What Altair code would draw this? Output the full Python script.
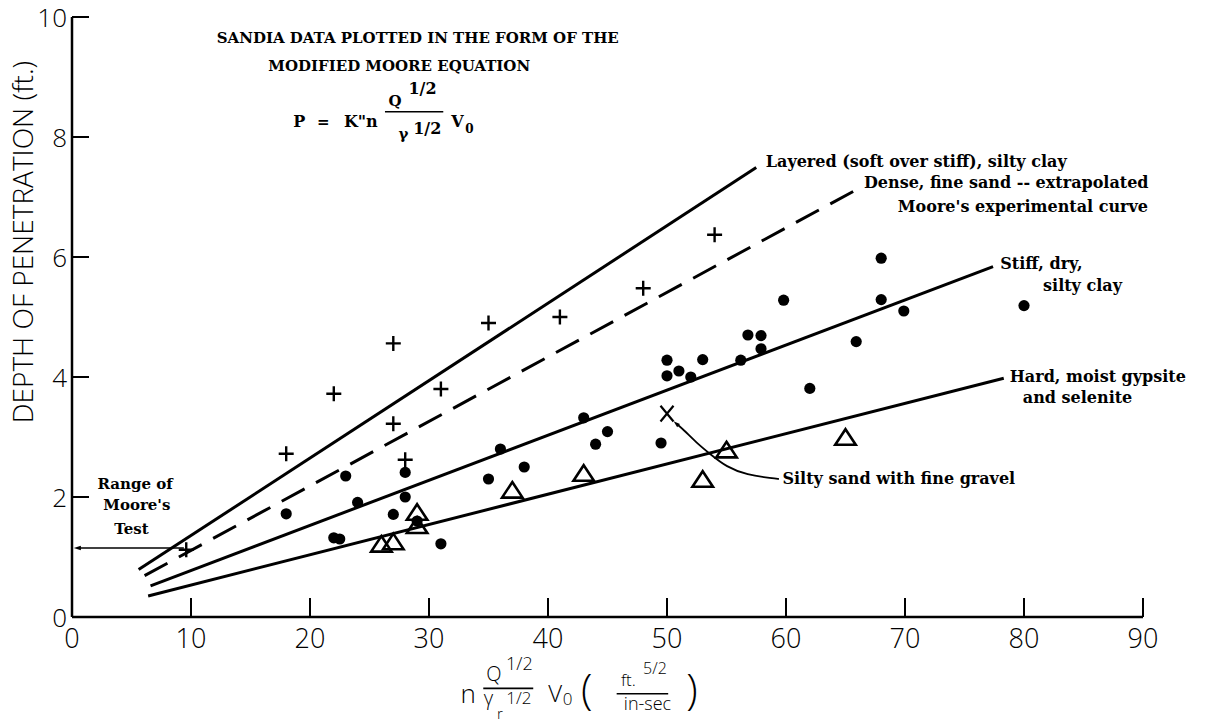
import altair as alt
import pandas as pd

# ---- axis ticks -------------------------------------------------------------
x_ticks = [0, 10, 20, 30, 40, 50, 60, 70, 80, 90]
y_ticks = [0, 2, 4, 6, 8, 10]

# ---- Sandia test data ---------------------------------------------------------
# layered (soft over stiff) silty clay
plus_x = [9.6, 18, 22, 27, 27, 28, 31, 35, 41, 48, 54]
plus_y = [1.12, 2.72, 3.72, 4.56, 3.22, 2.62, 3.8, 4.9, 5.0, 5.48, 6.37]

# stiff, dry silty clay
dot_x = [18, 22, 22.5, 23, 24, 27, 28, 28, 29, 31, 35, 36, 38, 43, 44, 45, 49.5,
         50, 50, 51, 52, 53, 56.2, 56.8, 57.9, 57.9, 59.8, 62, 65.9, 68, 68, 69.9, 80]
dot_y = [1.72, 1.32, 1.3, 2.35, 1.91, 1.71, 2.41, 2.0, 1.6, 1.22, 2.3, 2.8, 2.5,
         3.32, 2.88, 3.09, 2.9, 4.28, 4.02, 4.1, 4.0, 4.29, 4.28, 4.7, 4.69, 4.47,
         5.28, 3.81, 4.59, 5.98, 5.29, 5.1, 5.19]

# hard, moist gypsite and selenite
tri_x = [26, 27, 29, 29, 37, 43, 53, 55, 65]
tri_y = [1.22, 1.26, 1.75, 1.53, 2.12, 2.4, 2.3, 2.79, 3.0]

# silty sand with fine gravel
gravel_x = [50.0]
gravel_y = [3.39]

# ---- fitted lines (start / end) ---------------------------------------------
line_name = ["Layered", "Dense", "Stiff", "Hard"]
line_x0 = [5.6, 6.1, 6.6, 6.4]
line_y0 = [0.79, 0.69, 0.52, 0.35]
line_x1 = [57.5, 65.9, 77.4, 78.3]
line_y1 = [7.49, 7.12, 5.84, 3.98]

# ---- annotations --------------------------------------------------------------
label_text = ["Layered (soft over stiff), silty clay",
              "Dense, fine sand -- extrapolated",
              "Moore's experimental curve",
              "Stiff, dry,", "silty clay",
              "Hard, moist gypsite", "and selenite",
              "Silty sand with fine gravel"]
label_x = [58.3, 66.55, 69.4, 78.0, 81.6, 78.8, 79.9, 59.7]
label_y = [7.58, 7.23, 6.84, 5.88, 5.52, 4.0, 3.65, 2.3]

head_text = ["SANDIA DATA PLOTTED IN THE FORM OF THE", "MODIFIED MOORE EQUATION"]
head_x = [12.16, 16.5]
head_y = [9.65, 9.18]

eq_text = ["P", "=", "K\"n", "Q", "1/2", "\u03b3", "1/2", "V", "0"]
eq_x = [19.1, 21.12, 24.27, 27.14, 29.45, 27.85, 29.85, 32.4, 33.4]
eq_y = [8.25, 8.25, 8.25, 8.6, 8.8, 8.05, 8.14, 8.25, 8.14]
eq_size = [16, 15, 16, 15, 16, 15, 16, 16, 12]
eq_bar_x = [26.3]
eq_bar_x2 = [31.2]
eq_bar_y = [8.42]

range_text = ["Range of", "Moore's", "Test"]
range_x = [5.3, 5.45, 5.0]
range_y = [2.22, 1.86, 1.47]
range_arrow_x = [0.5]
range_arrow_x2 = [9.4]
range_arrow_y = [1.15]

# curved leader from the label to the gravel point
leader_x = [59.4, 58.9, 56.7, 55.0, 53.6, 52.5, 51.4, 50.8]
leader_y = [2.30, 2.31, 2.37, 2.50, 2.72, 2.90, 3.12, 3.22]

xt_text = ["n", "Q", "1/2", "\u03b3", "r", "1/2", "V", "0", "(", "ft.", "5/2", "in-sec", ")"]
xt_x = [33.3, 35.46, 37.6, 35.0, 35.95, 37.55, 40.6, 41.64, 43.25, 46.75, 48.99, 48.36, 52.1]
xt_y = [-1.3, -0.97, -0.8, -1.37, -1.62, -1.37, -1.3, -1.38, -1.23, -1.07, -0.86, -1.47, -1.23]
xt_size = [26, 20, 18, 20, 15, 17, 24, 17, 42, 17, 16, 18, 42]
xt_bar_x = [34.56, 45.77]
xt_bar_x2 = [38.76, 50.1]
xt_bar_y = [-1.19, -1.28]

y_title = "DEPTH OF PENETRATION (ft.)"

# ---- scales / helpers -----------------------------------------------------------
xs = alt.Scale(domain=[0, 90], nice=False, zero=False)
ys = alt.Scale(domain=[0, 10], nice=False, zero=False)
SANS = "Open Sans"
SERIF = "DejaVu Serif"
INK = "black"


def X(f="x"):
    return alt.X(f"{f}:Q", scale=xs, axis=None)


def Y(f="y"):
    return alt.Y(f"{f}:Q", scale=ys, axis=None)


# ---- axes: frame lines, inward ticks, tick labels ---------------------------------
x_dom = alt.Chart(pd.DataFrame({"x": [x_ticks[0]], "x2": [x_ticks[-1]], "y": [y_ticks[0]]})).mark_rule(
    color=INK, strokeWidth=2.5).encode(x=X(), x2="x2:Q", y=Y())
y_dom = alt.Chart(pd.DataFrame({"y": [y_ticks[0]], "y2": [y_ticks[-1]], "x": [x_ticks[0]]})).mark_rule(
    color=INK, strokeWidth=2.5).encode(y=Y(), y2="y2:Q", x=X())

xtick = alt.Chart(pd.DataFrame({"v": x_ticks[1:]})).mark_rule(
    color=INK, strokeWidth=2).encode(x=X("v"), y=alt.value(600), y2=alt.value(581))
ytick = alt.Chart(pd.DataFrame({"v": y_ticks[1:]})).mark_rule(
    color=INK, strokeWidth=2).encode(y=Y("v"), x=alt.value(0), x2=alt.value(17))

xlab = alt.Chart(pd.DataFrame({"v": x_ticks, "y": [0] * len(x_ticks),
                               "t": [str(v) for v in x_ticks]})).mark_text(
    font=SANS, fontWeight=300, fontSize=27, align="center", baseline="middle",
    dy=23, color=INK).encode(x=X("v"), y=Y(), text="t:N")
ylab = alt.Chart(pd.DataFrame({"v": y_ticks, "x": [0] * len(y_ticks),
                               "t": [str(v) for v in y_ticks]})).mark_text(
    font=SANS, fontWeight=300, fontSize=26, align="right", baseline="middle",
    dx=-5, dy=2, color=INK).encode(y=Y("v"), x=X(), text="t:N")

# ---- fitted lines ----------------------------------------------------------------
lines_df = pd.DataFrame({
    "name": line_name * 2,
    "x": line_x0 + line_x1,
    "y": line_y0 + line_y1,
})
solid = alt.Chart(lines_df).transform_filter(alt.datum.name != "Dense").mark_line(
    color=INK, strokeWidth=3).encode(x=X(), y=Y(), detail="name:N")
dashed = alt.Chart(lines_df).transform_filter(alt.datum.name == "Dense").mark_line(
    color=INK, strokeWidth=3, strokeDash=[26, 13]).encode(x=X(), y=Y(), detail="name:N")

# ---- data markers ----------------------------------------------------------------
dots = alt.Chart(pd.DataFrame({"x": dot_x, "y": dot_y})).mark_circle(
    size=125, color=INK, opacity=1).encode(x=X(), y=Y())

plus = alt.Chart(pd.DataFrame({"x": plus_x, "y": plus_y})).mark_point(
    shape="M-1,0L1,0M0,-1L0,1", size=225, strokeWidth=2.4, filled=False,
    color=INK, opacity=1).encode(x=X(), y=Y())

tris = alt.Chart(pd.DataFrame({"x": tri_x, "y": tri_y})).mark_point(
    shape="M0,-0.76L1,0.76L-1,0.76Z", size=420, strokeWidth=2.6, filled=False,
    color=INK, opacity=1).encode(x=X(), y=Y())

gravel = alt.Chart(pd.DataFrame({"x": gravel_x, "y": gravel_y})).mark_point(
    shape="M-0.83,-1L0.83,1M0.83,-1L-0.83,1", size=246, strokeWidth=2.2,
    filled=False, color=INK, opacity=1).encode(x=X(), y=Y())

# ---- arrows ------------------------------------------------------------------------
range_rule = alt.Chart(pd.DataFrame({"x": range_arrow_x, "x2": range_arrow_x2,
                                     "y": range_arrow_y})).mark_rule(
    color=INK, strokeWidth=1.5).encode(x=X(), x2="x2:Q", y=Y())
range_head = alt.Chart(pd.DataFrame({"x": range_arrow_x, "y": range_arrow_y})).mark_point(
    shape="M0,-1L0.55,0.7L-0.55,0.7Z", size=70, filled=True, color=INK, opacity=1,
    angle=270, dx=4).encode(x=X(), y=Y())

leader = alt.Chart(pd.DataFrame({"x": leader_x, "y": leader_y,
                                 "o": list(range(len(leader_x)))})).mark_line(
    color=INK, strokeWidth=1.8, interpolate="basis").encode(x=X(), y=Y(), order="o:Q")
leader_head = alt.Chart(pd.DataFrame({"x": leader_x[-1:], "y": leader_y[-1:]})).mark_point(
    shape="M0,-1L0.55,0.7L-0.55,0.7Z", size=60, filled=True, color=INK, opacity=1,
    angle=311).encode(x=X(), y=Y())

# ---- text ----------------------------------------------------------------------------
labels = alt.Chart(pd.DataFrame({"x": label_x, "y": label_y, "t": label_text})).mark_text(
    font=SERIF, fontWeight="bold", fontSize=16, align="left", baseline="middle",
    color=INK).encode(x=X(), y=Y(), text="t:N")

heads = alt.Chart(pd.DataFrame({"x": head_x, "y": head_y, "t": head_text})).mark_text(
    font=SERIF, fontWeight="bold", fontSize=15, align="left", baseline="middle",
    color=INK).encode(x=X(), y=Y(), text="t:N")

eq = alt.Chart(pd.DataFrame({"x": eq_x, "y": eq_y, "t": eq_text, "s": eq_size})).mark_text(
    font=SERIF, fontWeight="bold", align="center", baseline="middle",
    color=INK).encode(x=X(), y=Y(), text="t:N", size=alt.Size("s:Q", scale=None))
eq_bar = alt.Chart(pd.DataFrame({"x": eq_bar_x, "x2": eq_bar_x2, "y": eq_bar_y})).mark_rule(
    color=INK, strokeWidth=1.6).encode(x=X(), x2="x2:Q", y=Y())

range_lbl = alt.Chart(pd.DataFrame({"x": range_x, "y": range_y, "t": range_text})).mark_text(
    font=SERIF, fontWeight="bold", fontSize=15, align="center", baseline="middle",
    color=INK).encode(x=X(), y=Y(), text="t:N")

xtitle = alt.Chart(pd.DataFrame({"x": xt_x, "y": xt_y, "t": xt_text, "s": xt_size})).mark_text(
    font=SANS, fontWeight=300, align="center", baseline="middle",
    color=INK).encode(x=X(), y=Y(), text="t:N", size=alt.Size("s:Q", scale=None))
xtitle_bar = alt.Chart(pd.DataFrame({"x": xt_bar_x, "x2": xt_bar_x2, "y": xt_bar_y})).mark_rule(
    color=INK, strokeWidth=1.6).encode(x=X(), x2="x2:Q", y=Y())

ytitle = alt.Chart(pd.DataFrame({"x": [-3.95], "y": [6.25], "t": [y_title]})).mark_text(
    font=SANS, fontWeight=300, fontSize=28, angle=270, align="center",
    baseline="middle", color=INK).encode(x=X(), y=Y(), text="t:N")

chart = alt.layer(
    x_dom, y_dom, xtick, ytick, xlab, ylab,
    solid, dashed, dots, plus, tris, gravel,
    range_rule, range_head, leader, leader_head,
    labels, heads, eq, eq_bar, range_lbl, xtitle, xtitle_bar, ytitle,
).properties(
    width=1071, height=600,
    padding={"left": 72, "top": 17, "right": 63, "bottom": 110},
    autosize="none", background="white",
).configure_view(stroke=None)

chart.save("out.html", embed_options={"renderer": "svg", "actions": False})
